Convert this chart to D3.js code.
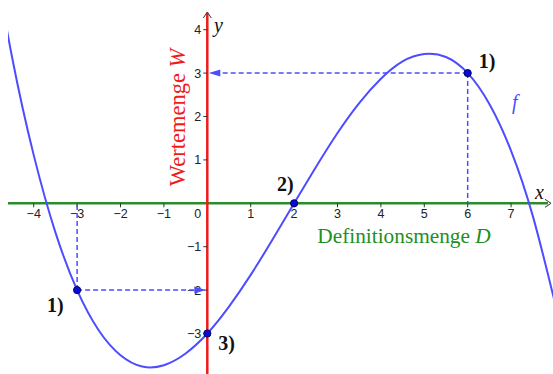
<!DOCTYPE html>
<html lang="de">
<head>
<meta charset="UTF-8">
<title>Definitionsmenge und Wertemenge</title>
<script src="https://cdn.jsdelivr.net/npm/d3@7"></script>
<style>
  body { margin: 0; background: #fff; }
  svg { display: block; }
  .tick-label { font-family: "Liberation Sans", Arial, sans-serif; font-size: 12.5px; fill: #222; }
  .note { font-family: "Liberation Serif", "DejaVu Serif", serif; }
</style>
</head>
<body>
<svg width="553" height="374"></svg>
<script>
const curveX = [-5, -4.5, -4, -3.5, -3, -2.5, -2, -1.5, -1, -0.5, 0, 0.5, 1, 1.5, 2, 2.5, 3, 3.5, 4, 4.5, 5, 5.5, 6, 6.5, 7, 7.5, 8];
const curveY = [6.16, 3.37, 1.11, -0.67, -2, -2.93, -3.50, -3.76, -3.73, -3.46, -3, -2.38, -1.65, -0.84, 0, 0.83, 1.62, 2.31, 2.87, 3.27, 3.44, 3.37, 3, 2.29, 1.21, -0.29, -2.25];

// marked points and their labels
const pointX = [6, 2, -3, 0];
const pointY = [3, 0, -2, -3];
const pointLabels = ["1)", "2)", "1)", "3)"];

// tick labels
const xTicks = [-4, -3, -2, -1, 1, 2, 3, 4, 5, 6, 7];
const yTicks = [4, 3, 2, 1, -1, -2, -3];

const svg = d3.select("svg");
const width = 553, height = 374;

const x = d3.scaleLinear().domain([-4.777, 7.966]).range([0, width]);
const y = d3.scaleLinear().domain([4.684, -3.933]).range([0, height]);

const blue = "#4d4dff";
const fmt = v => v < 0 ? "\u2212" + Math.abs(v) : String(v);

svg.append("defs").append("clipPath").attr("id", "plot")
  .append("rect").attr("x", 8).attr("y", 0).attr("width", width - 8).attr("height", height);

// axes
svg.append("line")
  .attr("x1", 8).attr("x2", 548).attr("y1", y(0)).attr("y2", y(0))
  .attr("stroke", "#2a8c2a").attr("stroke-width", 2.5);
svg.append("path")
  .attr("d", `M${545},${y(0) - 4}L${551},${y(0)}L${545},${y(0) + 4}`)
  .attr("fill", "none").attr("stroke", "#333").attr("stroke-width", 1);

svg.append("line")
  .attr("x1", x(0)).attr("x2", x(0)).attr("y1", 13).attr("y2", height)
  .attr("stroke", "#f01a1a").attr("stroke-width", 2.5);
svg.append("path")
  .attr("d", `M${x(0) - 4},${18}L${x(0)},${12}L${x(0) + 4},${18}`)
  .attr("fill", "none").attr("stroke", "#333").attr("stroke-width", 1);

// ticks and tick labels
svg.append("g").selectAll("line").data(xTicks).join("line")
  .attr("x1", d => x(d)).attr("x2", d => x(d))
  .attr("y1", y(0)).attr("y2", y(0) + 4)
  .attr("stroke", "#333").attr("stroke-width", 1);
svg.append("g").selectAll("text").data(xTicks).join("text")
  .attr("class", "tick-label")
  .attr("x", d => x(d)).attr("y", y(0) + 15)
  .attr("text-anchor", "middle")
  .text(fmt);
svg.append("text").attr("class", "tick-label")
  .attr("x", x(0) - 6).attr("y", y(0) + 15)
  .attr("text-anchor", "end").text("0");

svg.append("g").selectAll("line").data(yTicks).join("line")
  .attr("x1", x(0) - 4).attr("x2", x(0))
  .attr("y1", d => y(d)).attr("y2", d => y(d))
  .attr("stroke", "#333").attr("stroke-width", 1);
svg.append("g").selectAll("text").data(yTicks).join("text")
  .attr("class", "tick-label")
  .attr("x", x(0) - 6).attr("y", d => y(d) + 4.5)
  .attr("text-anchor", "end")
  .text(fmt);

// dashed helper lines with arrows
const guides = svg.append("g").attr("stroke", blue).attr("stroke-width", 1.5)
  .attr("stroke-dasharray", "5,3").attr("fill", "none");
guides.append("line").attr("x1", x(6)).attr("x2", x(6)).attr("y1", y(3)).attr("y2", y(0));
guides.append("line").attr("x1", x(6)).attr("x2", x(0) + 12).attr("y1", y(3)).attr("y2", y(3));
guides.append("line").attr("x1", x(-3)).attr("x2", x(-3)).attr("y1", y(-2)).attr("y2", y(0));
guides.append("line").attr("x1", x(-3)).attr("x2", x(0) - 12).attr("y1", y(-2)).attr("y2", y(-2));

svg.append("path")
  .attr("d", `M${x(0) + 1.5},${y(3)}L${x(0) + 13},${y(3) - 3.5}L${x(0) + 13},${y(3) + 3.5}Z`)
  .attr("fill", blue);
svg.append("path")
  .attr("d", `M${x(0) - 1.5},${y(-2)}L${x(0) - 13},${y(-2) - 3.5}L${x(0) - 13},${y(-2) + 3.5}Z`)
  .attr("fill", blue);

// the function graph
const line = d3.line()
  .x((d, i) => x(curveX[i]))
  .y(d => y(d))
  .curve(d3.curveNatural);
svg.append("path")
  .attr("clip-path", "url(#plot)")
  .attr("d", line(curveY))
  .attr("fill", "none").attr("stroke", blue).attr("stroke-width", 2);

// points
svg.append("g").selectAll("circle").data(pointX).join("circle")
  .attr("cx", d => x(d)).attr("cy", (d, i) => y(pointY[i]))
  .attr("r", 3.6)
  .attr("fill", "#0a0ad8").attr("stroke", "#00006a").attr("stroke-width", 1);

// point labels
const labelDx = [11, -17, -30, 11];
const labelDy = [-5, -12, 22, 16];
svg.append("g").selectAll("text").data(pointLabels).join("text")
  .attr("class", "note")
  .attr("x", (d, i) => x(pointX[i]) + labelDx[i])
  .attr("y", (d, i) => y(pointY[i]) + labelDy[i])
  .attr("font-size", 20).attr("font-weight", "bold").attr("fill", "#111")
  .text(d => d);

// text annotations
svg.append("text").attr("class", "note")
  .attr("x", 512).attr("y", 109)
  .attr("font-size", 20).attr("font-style", "italic").attr("fill", blue)
  .text("f");
svg.append("text").attr("class", "note")
  .attr("x", 214).attr("y", 32)
  .attr("font-size", 20).attr("font-style", "italic").attr("fill", "#111")
  .text("y");
svg.append("text").attr("class", "note")
  .attr("x", 535).attr("y", 199)
  .attr("font-size", 20).attr("font-style", "italic").attr("fill", "#111")
  .text("x");

const wText = svg.append("text").attr("class", "note")
  .attr("transform", "translate(185,117.5) rotate(-90)")
  .attr("text-anchor", "middle")
  .attr("font-size", 22.5).attr("fill", "#f01a1a");
wText.append("tspan").text("Wertemenge ");
wText.append("tspan").attr("font-style", "italic").text("W");

const dText = svg.append("text").attr("class", "note")
  .attr("x", 404).attr("y", 243)
  .attr("text-anchor", "middle")
  .attr("font-size", 21.3).attr("fill", "#1f8f1f");
dText.append("tspan").text("Definitionsmenge ");
dText.append("tspan").attr("font-style", "italic").text("D");
</script>
</body>
</html>
